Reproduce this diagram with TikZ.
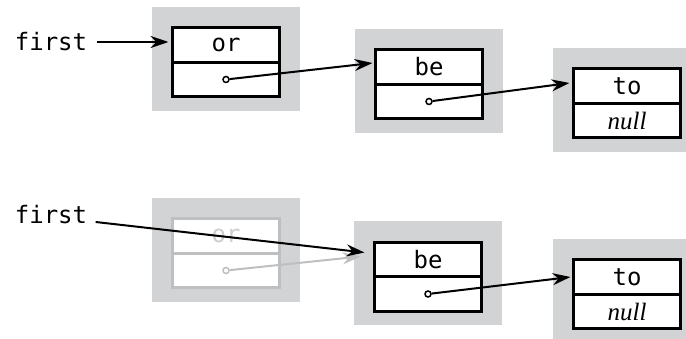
\documentclass[tikz,border=0pt]{standalone}
\usepackage{fontspec}
\newfontfamily\monofont{DejaVu Sans Mono}
\newfontfamily\serifitfont{Liberation Serif}
\usepackage{tikz}
\usetikzlibrary{positioning}
\usetikzlibrary{arrows.meta}
\usetikzlibrary{calc}
\definecolor{shadegray}{RGB}{210,211,213}
\definecolor{fadegray}{RGB}{190,191,193}
\definecolor{fadetext}{RGB}{205,206,208}
\newcommand{\codefont}{\monofont\fontsize{24}{26}\selectfont}
\newcommand{\nulltext}{\serifitfont\itshape\fontsize{25}{27}\selectfont}

\begin{document}
\begin{tikzpicture}[x=1pt, y=-1pt,
	shade/.style = {fill=shadegray, minimum width=148pt, minimum height=104pt, inner sep=0pt, outer sep=0pt},
	cell/.style = {draw, line width=3pt, fill=white, minimum width=107pt, minimum height=34.5pt, inner sep=0pt, outer sep=0pt, font=\codefont},
	fade/.style = {cell, draw=fadegray, text=fadetext},
	link/.style = {line width=2pt, -{Stealth[length=18pt, width=12pt, inset=6pt]}},
	dot/.style = {circle, draw, fill=white, inner sep=0pt, minimum size=6pt, line width=1.5pt}]
\clip (0,0) rectangle (686,339);

% before
\node (first1) at (51,42) {\codefont first};
\node[shade] (sh1) at (226,59) {};
\node[shade] (sh2) at ($(sh1)+(203,22)$) {};
\node[shade] (sh3) at ($(sh2)+(198,19)$) {};
\node[cell] (or1) at ($(sh1)+(0,-14)$) {or};
\node[cell, below=0pt of or1] (or1n) {};
\node[cell] (be1) at ($(sh2)+(0,-14)$) {be};
\node[cell, below=0pt of be1] (be1n) {};
\node[cell] (to1) at ($(sh3)+(0,-14)$) {to};
\node[cell, below=0pt of to1, font=\nulltext] (to1n) {null};
\node[dot] (p1) at (or1n.center) {};
\node[dot] (p2) at (be1n.center) {};

\draw[link] ([xshift=6pt]first1.east) -- ([xshift=-4pt]first1.east -| or1.west);
\draw[link] (p1) -- ([xshift=-3pt,yshift=4pt]be1.west);
\draw[link] (p2) -- ([xshift=-4pt,yshift=3pt]to1.west);

% after
\node (first2) at (51,215) {\codefont first};
\node[shade] (sh4) at (226,250) {};
\node[shade] (sh5) at ($(sh4)+(202,23.5)$) {};
\node[shade] (sh6) at ($(sh5)+(199,17.5)$) {};
\node[fade] (or2) at ($(sh4)+(0,-14)$) {or};
\node[fade, below=0pt of or2] (or2n) {};
\node[cell] (be2) at ($(sh5)+(0,-14)$) {be};
\node[cell, below=0pt of be2] (be2n) {};
\node[cell] (to2) at ($(sh6)+(0,-14)$) {to};
\node[cell, below=0pt of to2, font=\nulltext] (to2n) {null};
\node[dot, draw=fadegray] (p4) at (or2n.center) {};
\node[dot] (p5) at (be2n.center) {};

\draw[link, draw=fadegray] (p4) -- ([xshift=-14pt,yshift=3pt]be2.west);
\draw[link] ([xshift=5pt,yshift=-7pt]first2.east) -- ([xshift=-10pt,yshift=7pt]be2.west);
\draw[link] (p5) -- ([xshift=-3pt]to2.west);
\end{tikzpicture}
\end{document}
